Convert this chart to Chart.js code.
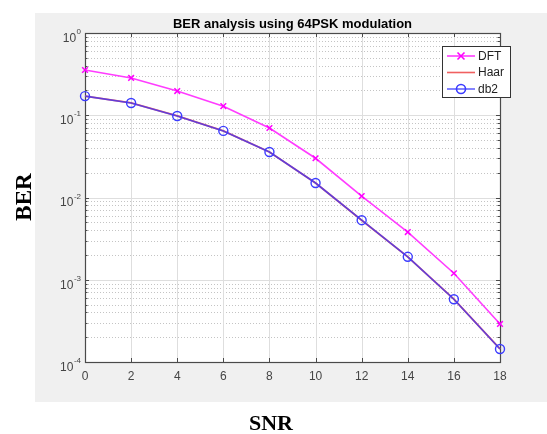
<!DOCTYPE html>
<html>
<head>
<meta charset="utf-8">
<script src="https://cdn.jsdelivr.net/npm/chart.js@4/dist/chart.umd.min.js"></script>
<style>
html,body{margin:0;padding:0;background:#fff;}
#wrap{width:547px;height:434px;}
</style>
</head>
<body>
<div id="wrap"><canvas id="c" width="547" height="434"></canvas></div>
<script>
// ---- data ----
const snr = [0, 2, 4, 6, 8, 10, 12, 14, 16, 18];
const berDFT  = [0.355, 0.284, 0.197, 0.129, 0.070, 0.030, 0.0104, 0.0038, 0.0012, 0.00029];
const berHaar = [0.171, 0.141, 0.098, 0.0645, 0.0357, 0.015, 0.0053, 0.0019, 0.00058, 0.000144];
const berDb2  = [0.171, 0.141, 0.098, 0.0645, 0.0357, 0.015, 0.0053, 0.0019, 0.00058, 0.000144];
const xTicks = [0, 2, 4, 6, 8, 10, 12, 14, 16, 18];
const yExponents = [0, -1, -2, -3, -4];
const seriesNames = ['DFT', 'Haar', 'db2'];
const titleText = 'BER analysis using 64PSK modulation';
const xTitle = 'SNR';
const yTitle = 'BER';

const toXY = (xs, ys) => xs.map((v, i) => ({x: v, y: ys[i]}));

const SANS = '"Liberation Sans", Arial, sans-serif';
const SERIF = '"Liberation Serif", "Times New Roman", serif';

const decor = {
  id: 'decor',
  beforeDraw(chart) {
    const {ctx, chartArea: a, scales: {x, y}} = chart;
    ctx.save();
    ctx.fillStyle = '#ffffff';
    ctx.fillRect(0, 0, chart.width, chart.height);
    ctx.fillStyle = '#f0f0f0';
    ctx.fillRect(35, 13, 512, 389);
    ctx.fillStyle = '#ffffff';
    ctx.fillRect(a.left, a.top, a.right - a.left, a.bottom - a.top);
    ctx.lineWidth = 1;
    // minor y grid (dotted)
    ctx.strokeStyle = '#c4c4c4';
    ctx.setLineDash([1, 2]);
    for (let d = -4; d < 0; d++) {
      for (let m = 2; m <= 9; m++) {
        const py = Math.round(y.getPixelForValue(m * Math.pow(10, d))) + 0.5;
        ctx.beginPath(); ctx.moveTo(a.left, py); ctx.lineTo(a.right, py); ctx.stroke();
      }
    }
    ctx.setLineDash([]);
    // major grid
    ctx.strokeStyle = '#dedede';
    yExponents.forEach(e => {
      const py = Math.round(y.getPixelForValue(Math.pow(10, e))) + 0.5;
      ctx.beginPath(); ctx.moveTo(a.left, py); ctx.lineTo(a.right, py); ctx.stroke();
    });
    xTicks.forEach(t => {
      const px = Math.round(x.getPixelForValue(t)) + 0.5;
      ctx.beginPath(); ctx.moveTo(px, a.top); ctx.lineTo(px, a.bottom); ctx.stroke();
    });
    // frame
    ctx.strokeStyle = '#4a4a4a';
    ctx.lineWidth = 1.2;
    ctx.strokeRect(Math.round(a.left) + 0.5, Math.round(a.top) + 0.5,
                   Math.round(a.right - a.left), Math.round(a.bottom - a.top));
    ctx.lineWidth = 1;
    // x ticks
    xTicks.forEach(t => {
      const px = Math.round(x.getPixelForValue(t)) + 0.5;
      ctx.beginPath();
      ctx.moveTo(px, a.bottom); ctx.lineTo(px, a.bottom - 4);
      ctx.moveTo(px, a.top); ctx.lineTo(px, a.top + 4);
      ctx.stroke();
    });
    // y ticks
    for (let d = -4; d <= 0; d++) {
      for (let m = 1; m <= 9; m++) {
        if (d === 0 && m > 1) break;
        const py = Math.round(y.getPixelForValue(m * Math.pow(10, d))) + 0.5;
        const len = m === 1 ? 4 : 2.5;
        ctx.beginPath();
        ctx.moveTo(a.left, py); ctx.lineTo(a.left + len, py);
        ctx.moveTo(a.right, py); ctx.lineTo(a.right - len, py);
        ctx.stroke();
      }
    }
    ctx.restore();
  },
  afterDraw(chart) {
    const {ctx, chartArea: a, scales: {x, y}} = chart;
    ctx.save();
    // tick labels x
    ctx.fillStyle = '#454545';
    ctx.font = '12px ' + SANS;
    ctx.textAlign = 'center';
    ctx.textBaseline = 'middle';
    xTicks.forEach(t => ctx.fillText(String(t), x.getPixelForValue(t), a.bottom + 15));
    // tick labels y with superscripts
    yExponents.forEach(e => {
      const py = y.getPixelForValue(Math.pow(10, e));
      const exp = String(e);
      ctx.font = '8px ' + SANS;
      const ew = ctx.measureText(exp).width;
      const right = a.left - 4;
      ctx.textAlign = 'left';
      ctx.fillText(exp, right - ew, py - 1);
      ctx.font = '12px ' + SANS;
      ctx.textAlign = 'right';
      ctx.fillText('10', right - ew - 0.5, py + 5.5);
    });
    // title
    ctx.fillStyle = '#000';
    ctx.font = 'bold 13px ' + SANS;
    ctx.textAlign = 'center';
    ctx.textBaseline = 'alphabetic';
    ctx.fillText(titleText, (a.left + a.right) / 2, 28);
    // axis titles
    ctx.font = 'bold 22px ' + SERIF;
    ctx.textBaseline = 'middle';
    ctx.fillText(xTitle, 271, 424);
    ctx.save();
    ctx.translate(25, 197);
    ctx.rotate(-Math.PI / 2);
    ctx.font = 'bold 23px ' + SERIF;
    ctx.fillText(yTitle, 0, 0);
    ctx.restore();
    // legend
    const bx = 442.5, by = 46.5, bw = 68, bh = 51;
    ctx.fillStyle = '#fff';
    ctx.fillRect(bx, by, bw, bh);
    ctx.strokeStyle = '#333';
    ctx.lineWidth = 1;
    ctx.strokeRect(bx, by, bw, bh);
    const ds = chart.data.datasets;
    const rows = [56, 72.5, 89];
    ds.forEach((d, i) => {
      const ly = rows[i];
      ctx.strokeStyle = d.borderColor;
      ctx.lineWidth = 1.6;
      ctx.beginPath(); ctx.moveTo(447, ly); ctx.lineTo(475, ly); ctx.stroke();
      const mx = 461;
      if (d.pointStyle === 'crossRot' && d.pointRadius > 0) {
        ctx.strokeStyle = d.pointBorderColor;
        ctx.beginPath();
        ctx.moveTo(mx - 3.5, ly - 3.5); ctx.lineTo(mx + 3.5, ly + 3.5);
        ctx.moveTo(mx - 3.5, ly + 3.5); ctx.lineTo(mx + 3.5, ly - 3.5);
        ctx.stroke();
      } else if (d.pointStyle === 'circle' && d.pointRadius > 0) {
        ctx.strokeStyle = d.pointBorderColor;
        ctx.beginPath(); ctx.arc(mx, ly, 4.5, 0, Math.PI * 2); ctx.stroke();
      }
      ctx.fillStyle = '#222';
      ctx.font = '12px ' + SANS;
      ctx.textAlign = 'left';
      ctx.textBaseline = 'middle';
      ctx.fillText(d.label, 478, ly + 0.5);
    });
    ctx.restore();
  }
};

new Chart(document.getElementById('c'), {
  type: 'line',
  data: {
    datasets: [
      {
        label: seriesNames[0],
        data: toXY(snr, berDFT),
        borderColor: '#ff3cff',
        pointBorderColor: '#ff00ff',
        backgroundColor: 'transparent',
        borderWidth: 1.6,
        pointStyle: 'crossRot',
        pointRadius: 4,
        pointBorderWidth: 1.5,
        clip: false,
        order: 3
      },
      {
        label: seriesNames[1],
        data: toXY(snr, berHaar),
        borderColor: '#f06060',
        pointBorderColor: '#f06060',
        backgroundColor: 'transparent',
        borderWidth: 1.8,
        pointRadius: 0,
        pointStyle: 'line',
        clip: false,
        order: 2
      },
      {
        label: seriesNames[2],
        data: toXY(snr, berDb2),
        borderColor: 'rgba(50,50,255,0.75)',
        pointBorderColor: '#3c3cff',
        pointBackgroundColor: 'transparent',
        backgroundColor: 'transparent',
        borderWidth: 1.6,
        pointStyle: 'circle',
        pointRadius: 4.5,
        pointBorderWidth: 1.4,
        clip: false,
        order: 1
      }
    ]
  },
  options: {
    responsive: false,
    animation: false,
    layout: {padding: {left: 85, right: 47, top: 33, bottom: 72}},
    plugins: {legend: {display: false}, title: {display: false}, tooltip: {enabled: false}},
    elements: {line: {tension: 0}},
    scales: {
      x: {type: 'linear', min: 0, max: 18, display: false},
      y: {type: 'logarithmic', min: 1e-4, max: 1, display: false}
    }
  },
  plugins: [decor]
});
</script>
</body>
</html>
